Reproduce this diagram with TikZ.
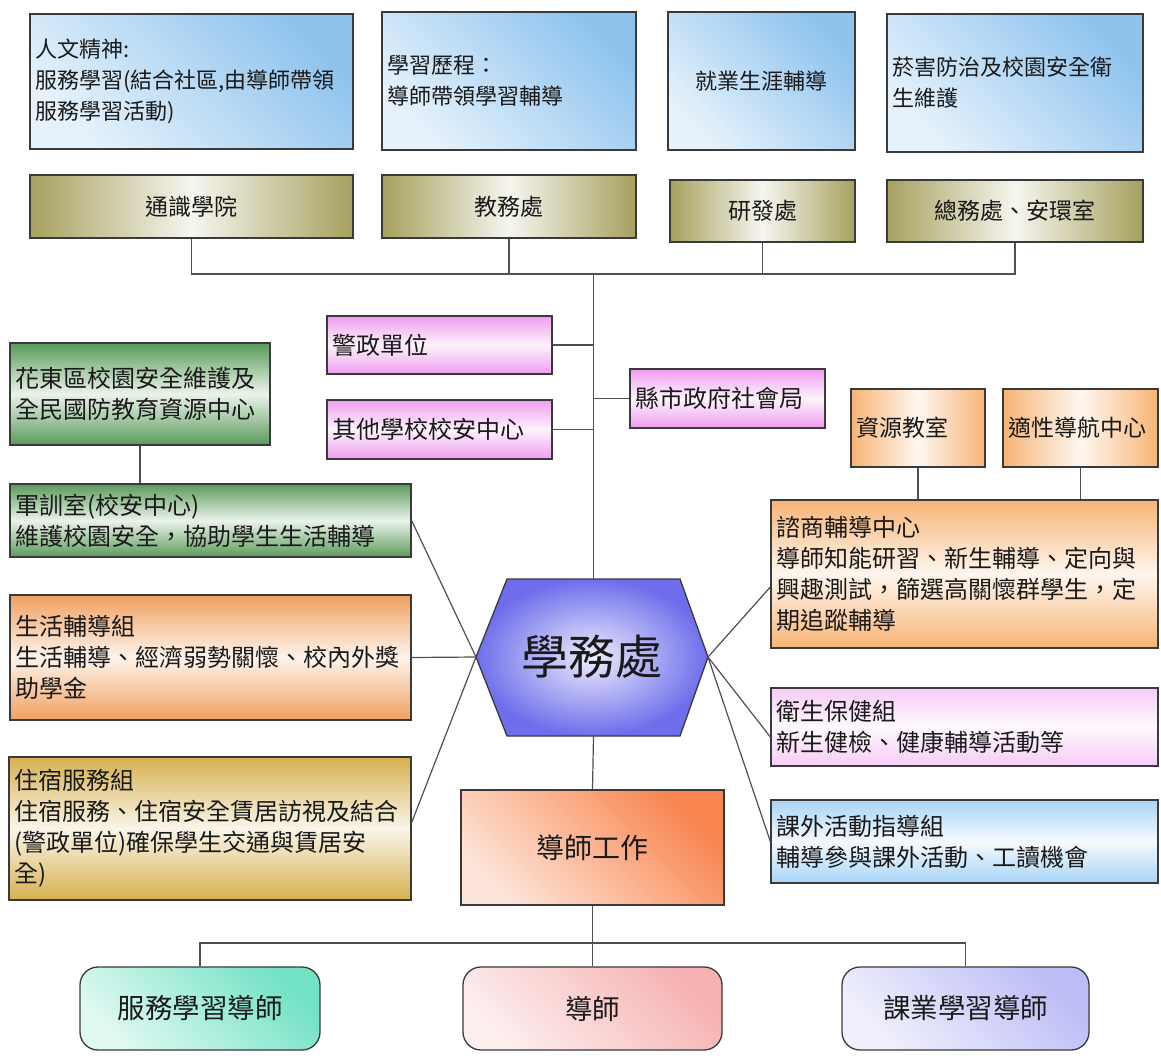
\documentclass[tikz,border=0pt]{standalone}
\usepackage{fontspec}
\setmainfont{Noto Sans CJK TC}
\usetikzlibrary{calc}
\definecolor{edgec}{HTML}{3A3A3A}
\definecolor{linec}{HTML}{505050}
\definecolor{txtc}{HTML}{1A1A1A}
\definecolor{skyA}{HTML}{8EC3EE}
\definecolor{oliveA}{HTML}{A6A15E}
\definecolor{pinkA}{HTML}{EE9CEE}
\definecolor{greenA}{HTML}{5A9A5A}
\definecolor{orangeA}{HTML}{F0A060}
\definecolor{goldA}{HTML}{D6B04E}
\definecolor{hexA}{HTML}{6E6EEC}
\definecolor{orangeB}{HTML}{F7B475}
\definecolor{lilacA}{HTML}{F6CCF6}
\definecolor{skyB}{HTML}{A8D4F6}
\definecolor{redA}{HTML}{F8844E}
\definecolor{tealA}{HTML}{72E2C4}
\definecolor{roseA}{HTML}{F6B2B2}
\definecolor{lavA}{HTML}{BCBCF6}
\begin{document}
\begin{tikzpicture}[x=1pt,y=-1pt,
  boxbase/.style={draw=edgec, line width=1.3pt, text=txtc, inner xsep=5pt, inner ysep=2pt},
  lbox/.style={boxbase, align=left, font=\fontsize{24}{31}\selectfont},
  cbox/.style={boxbase, align=center, inner sep=0pt, font=\fontsize{23}{30}\selectfont},
  vgrad/.style={top color=#1, bottom color=#1, middle color=#1!12!white},
  hgrad/.style={left color=#1, right color=#1, middle color=#1!10!white},
  dgrad/.style={top color=#1, bottom color=#1!22!white, shading angle=-45},
  conn/.style={draw=linec, line width=1.2pt}
]
\useasboundingbox[fill=white] (0,0) rectangle (1161,1055);

% top information boxes
\node[lbox, dgrad=skyA, font=\fontsize{22}{31}\selectfont, text width=313pt, minimum height=135pt] (a1) at (191.5,81.5)
  {人文精神:\\服務學習(結合社區,由導師帶領\\服務學習活動)};
\node[lbox, dgrad=skyA, font=\fontsize{22}{31}\selectfont, text width=244pt, minimum height=138pt] (a2) at (509,81)
  {學習歷程：\\導師帶領學習輔導};
\node[cbox, dgrad=skyA, font=\fontsize{22}{31}\selectfont, minimum width=187pt, minimum height=138pt] (a3) at (761.5,81)
  {就業生涯輔導};
\node[lbox, dgrad=skyA, font=\fontsize{22}{31}\selectfont, text width=246pt, minimum height=138pt] (a4) at (1015,83)
  {菸害防治及校園安全衛\\生維護};

% olive units
\node[cbox, hgrad=oliveA, minimum width=323pt, minimum height=63pt] (o1) at (191.5,206.5) {通識學院};
\node[cbox, hgrad=oliveA, minimum width=254pt, minimum height=63pt] (o2) at (509,206.5) {教務處};
\node[cbox, hgrad=oliveA, minimum width=185pt, minimum height=62pt] (o3) at (762.5,211) {研發處};
\node[cbox, hgrad=oliveA, minimum width=256pt, minimum height=62pt] (o4) at (1015,211) {總務處、安環室};

% hexagon
\coordinate (hL) at (476,657);
\coordinate (hR) at (708,657);
\coordinate (hT) at (593.5,579);
\coordinate (hB) at (593.5,736);
\shadedraw[draw=edgec, line width=1.3pt, inner color=hexA!12!white, outer color=hexA]
  (507,579) -- (680,579) -- (hR) -- (680,736) -- (507,736) -- (hL) -- cycle;
\node[text=txtc, font=\fontsize{47}{54}\selectfont] (hex) at (592,657) {學務處};

% pink units
\node[lbox, vgrad=pinkA, text width=215pt, minimum height=58pt] (p1) at (439.5,345) {警政單位};
\node[lbox, vgrad=pinkA, text width=215pt, minimum height=59pt] (p2) at (439.5,429.5) {其他學校校安中心};
\node[lbox, vgrad=pinkA, text width=185pt, minimum height=59pt] (p3) at (727.5,398.5) {縣市政府社會局};

% green units
\node[lbox, vgrad=greenA, text width=250pt, minimum height=102pt] (g1) at (140,394)
  {花東區校園安全維護及\\全民國防教育資源中心};
\node[lbox, vgrad=greenA, text width=391pt, minimum height=73pt] (g2) at (210.5,520.5)
  {軍訓室(校安中心)\\維護校園安全，協助學生生活輔導};

% left units
\node[lbox, vgrad=orangeA, text width=391pt, minimum height=125pt] (l1) at (210.5,657.5)
  {生活輔導組\\生活輔導、經濟弱勢關懷、校內外獎\\助學金};
\node[lbox, vgrad=goldA, text width=392pt, minimum height=143pt] (l2) at (210,828.5)
  {住宿服務組\\住宿服務、住宿安全賃居訪視及結合\\(警政單位)確保學生交通與賃居安\\全)};

% right units
\node[lbox, hgrad=orangeB, font=\fontsize{23}{30}\selectfont, text width=124pt, minimum height=78pt] (r1) at (918,428) {資源教室};
\node[lbox, hgrad=orangeB, font=\fontsize{23}{30}\selectfont, text width=145pt, minimum height=78pt] (r2) at (1080.5,428) {適性導航中心};
\node[lbox, vgrad=orangeB, text width=377pt, minimum height=148pt] (c1) at (964.5,574)
  {諮商輔導中心\\導師知能研習、新生輔導、定向與\\興趣測試，篩選高關懷群學生，定\\期追蹤輔導};
\node[lbox, vgrad=lilacA, text width=377pt, minimum height=78pt] (h1) at (964.5,727)
  {衛生保健組\\新生健檢、健康輔導活動等};
\node[lbox, vgrad=skyB, text width=377pt, minimum height=83pt] (e1) at (964.5,841.5)
  {課外活動指導組\\輔導參與課外活動、工讀機會};

% tutor work
\node[cbox, dgrad=redA, font=\fontsize{28}{34}\selectfont, minimum width=263pt, minimum height=115pt] (t0) at (592.5,847.5) {導師工作};
\node[cbox, dgrad=tealA, rounded corners=18pt, font=\fontsize{27.5}{33}\selectfont, minimum width=240pt, minimum height=83pt] (b1) at (200,1008.5) {服務學習導師};
\node[cbox, dgrad=roseA, rounded corners=18pt, font=\fontsize{27.5}{33}\selectfont, minimum width=259pt, minimum height=83pt] (b2) at (592.5,1008.5) {導師};
\node[cbox, dgrad=lavA, rounded corners=18pt, font=\fontsize{27.5}{33}\selectfont, minimum width=247pt, minimum height=83pt] (b3) at (965.5,1008.5) {課業學習導師};

% connectors
\coordinate (busT) at (593.5,274);
\coordinate (busB) at (592.5,943);
\draw[conn] (o1.south) |- (busT) -| (o4.south);
\draw[conn] (o2.south) -- (o2.south |- busT);
\draw[conn] (o3.south) -- (o3.south |- busT);
\draw[conn] (busT) -- (hT);
\draw[conn] (p1.east) -- (p1.east -| hT);
\draw[conn] (p2.east) -- (p2.east -| hT);
\draw[conn] (p3.west) -- (p3.west -| hT);
\draw[conn] (g1.south) -- (g1.south |- g2.north);
\draw[conn] (g2.east) -- (hL);
\draw[conn] (l1.east) -- (hL);
\draw[conn] ([yshift=6pt]l2.east) -- (hL);
\draw[conn] (r1.south) -- (r1.south |- c1.north);
\draw[conn] (r2.south) -- (r2.south |- c1.north);
\draw[conn] (hR) -- ([yshift=-13pt]c1.west);
\draw[conn] (hR) -- ([yshift=-10pt]h1.west);
\draw[conn] (hR) -- (e1.west);
\draw[conn] (hB) -- (t0.north);
\draw[conn] (t0.south) -- (b2.north);
\draw[conn] (b1.north) |- (busB) -| (b3.north);
\end{tikzpicture}
\end{document}
